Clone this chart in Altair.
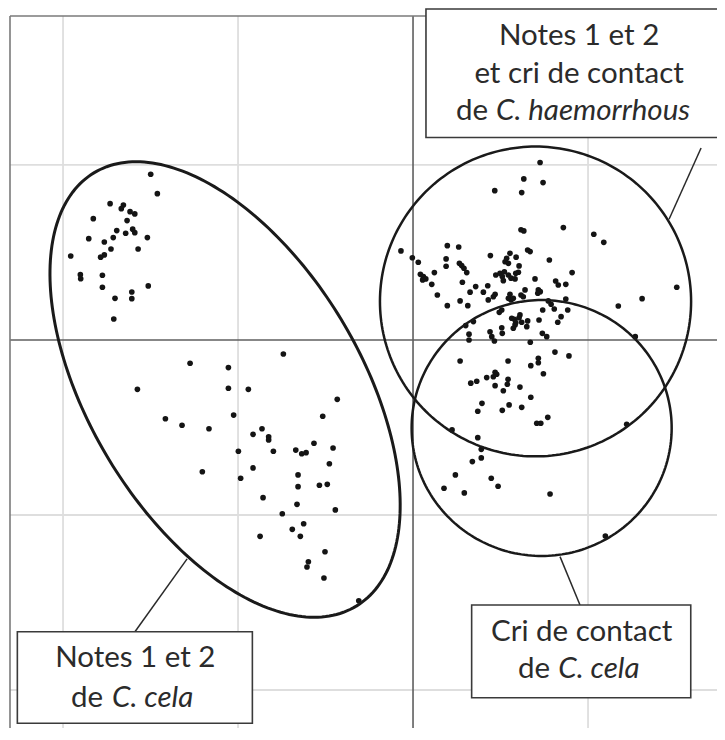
import altair as alt
import pandas as pd
import numpy as np

# ---- scores (grid spacing = 1 unit) ----
left_upper = [(-1.499,0.947),(-1.461,0.836),(-1.731,0.779),(-1.655,0.771),(-1.667,0.750),(-1.617,0.733),
              (-1.590,0.720),(-1.827,0.693),(-1.634,0.682),(-1.693,0.625),(-1.602,0.633),(-1.590,0.613),
              (-1.642,0.610),(-1.853,0.579),(-1.713,0.585),(-1.518,0.585),(-1.764,0.560),(-1.726,0.520),
              (-1.571,0.520),(-1.956,0.480),(-1.764,0.486),(-1.785,0.473),(-1.901,0.373),(-1.899,0.350),
              (-1.775,0.370),(-1.775,0.301),(-1.513,0.309),(-1.703,0.238),(-1.607,0.274),(-1.607,0.236),
              (-1.710,0.120)]
left_lower = [(-0.741,-0.080),(-1.274,-0.133),(-1.055,-0.158),(-1.575,-0.282),(-1.055,-0.276),(-0.941,-0.282),
              (-0.433,-0.339),(-1.415,-0.450),(-1.320,-0.487),(-1.166,-0.507),(-1.025,-0.429),(-0.516,-0.436),
              (-0.914,-0.539),(-0.863,-0.507),(-0.825,-0.553),(-0.825,-0.571),(-0.566,-0.590),(-0.998,-0.636),
              (-0.798,-0.636),(-0.670,-0.629),(-0.636,-0.650),(-0.611,-0.644),(-0.457,-0.617),(-0.478,-0.707),
              (-1.204,-0.753),(-0.914,-0.731),(-0.985,-0.790),(-0.657,-0.771),(-0.657,-0.838),(-0.535,-0.830),
              (-0.490,-0.825),(-0.857,-0.901),(-0.663,-0.939),(-0.444,-0.971),(-0.747,-0.993),(-0.625,-1.050),
              (-0.690,-1.082),(-0.644,-1.122),(-0.874,-1.122),(-0.503,-1.210),(-0.598,-1.267),(-0.606,-1.297),
              (-0.509,-1.360),(-0.310,-1.490)]
right_upper = [(0.726,1.014),(0.633,0.920),(0.743,0.899),(0.467,0.853),(0.621,0.842),(0.617,0.630),(0.633,0.623),
               (0.859,0.642),(1.033,0.604),(1.090,0.558),(-0.069,0.509),(0.196,0.539),(0.261,0.531),(-0.004,0.470),
               (0.030,0.444),(0.189,0.463),(0.189,0.421),(0.265,0.438),(0.278,0.425),(0.291,0.410),(0.307,0.385),
               (0.122,0.385),(0.442,0.482),(0.554,0.495),(0.535,0.467),(0.526,0.447),(0.545,0.438),(0.589,0.473),
               (0.655,0.514),(0.669,0.505),(0.779,0.457),(0.606,0.423),(0.602,0.387),(0.042,0.375),(0.059,0.362),
               (0.073,0.349),(0.055,0.343),(0.107,0.318),(0.282,0.330),(0.358,0.305),(0.427,0.310),(0.473,0.371),
               (0.497,0.381),(0.522,0.390),(0.510,0.362),(0.545,0.371),(0.560,0.353),(0.516,0.339),(0.587,0.381),
               (0.583,0.349),(0.697,0.349),(0.815,0.337),(0.830,0.314),(0.873,0.318),(0.909,0.385),(0.139,0.257),
               (0.326,0.273),(0.402,0.273),(0.469,0.261),(0.459,0.247),(0.430,0.229),(0.554,0.261),(0.545,0.238),
               (0.560,0.229),(0.573,0.238),(0.617,0.257),(0.630,0.247),(0.640,0.286),(0.716,0.286),(0.727,0.276),
               (0.713,0.267),(0.196,0.196),(0.269,0.223),(0.313,0.196),(0.773,0.223),(0.789,0.204),(0.873,0.234),
               (0.741,0.171),(0.807,0.177),(0.846,0.133),(0.827,0.101),(0.884,0.171),(0.493,0.158),(0.507,0.171),
               (0.564,0.124),(0.579,0.118),(0.587,0.099),(0.606,0.127),(0.611,0.143),(0.583,0.086),(0.573,0.067),
               (0.621,0.101),(0.655,0.109),(0.650,0.076),(0.720,0.114),(0.345,0.105),(0.301,0.082),(0.320,0.033),
               (0.320,0.000),(0.440,0.047),(0.450,0.019),(0.465,-0.006),(0.507,0.070),(0.510,0.038),(0.739,0.038),
               (0.764,0.019),(0.670,-0.013),(1.173,0.194),(1.309,0.236),(1.507,0.301),(1.270,0.019)]
right_lower = [(0.811,-0.069),(0.891,-0.091),(0.269,-0.120),(0.543,-0.120),(0.673,-0.147),(0.716,-0.105),
               (0.716,-0.130),(0.745,-0.193),(0.469,-0.185),(0.478,-0.196),(0.459,-0.210),(0.421,-0.215),
               (0.543,-0.225),(0.330,-0.247),(0.364,-0.236),(0.469,-0.261),(0.539,-0.253),(0.611,-0.269),
               (0.516,-0.290),(0.673,-0.327),(0.394,-0.362),(0.370,-0.407),(0.549,-0.371),(0.510,-0.402),
               (0.621,-0.385),(0.770,-0.442),(0.707,-0.476),(0.730,-0.476),(0.223,-0.514),(1.221,-0.482),
               (0.370,-0.558),(0.390,-0.625),(0.390,-0.674),(0.339,-0.695),(0.242,-0.771),(0.447,-0.790),
               (0.486,-0.836),(0.177,-0.847),(0.293,-0.874),(0.783,-0.880),(1.099,-1.120)]

# ---- ellipses (group outlines): centre, semi-axes, rotation (deg) ----
ell_names = ["notes_cela", "haemorrhous", "cri_cela"]
ell_cx = [-1.074, 0.700, 0.735]
ell_cy = [-0.283, 0.220, -0.503]
ell_a = [1.447, 0.889, 0.743]
ell_b = [0.775, 0.885, 0.731]
ell_rot = [-58.8, 0.0, 0.0]
ell_w = [3.0, 2.5, 2.5]

# ---- label boxes and leader lines ----
box_x = [0.074, -2.261, 0.335]
box_x2 = [1.90, -0.918, 1.587]
box_y = [1.891, -1.667, -1.514]
box_y2 = [1.157, -2.190, -2.044]
lead_x = [1.646, -1.589, 0.954]
lead_y = [1.097, -1.667, -1.514]
lead_x2 = [1.463, -1.291, 0.840]
lead_y2 = [0.690, -1.251, -1.238]

center_txt = ["Notes 1 et 2", "et cri de contact", "Notes 1 et 2", "Cri de contact"]
center_x = [0.949, 0.949, -1.587, 0.964]
center_y = [1.686, 1.469, -1.870, -1.718]
de_x = [0.429, -1.771, 0.783]
de_y = [1.257, -2.095, -1.933]
sp_txt = ["C. haemorrhous", "C. cela", "C. cela"]
sp_x = [0.474, -1.720, 0.830]

XMIN, XMAX = -2.303, 1.737
YMIN, YMAX = -2.217, 1.851
grid_x = [-2, -1, 1]
grid_y = [1, -1, -2]

pts = pd.DataFrame(left_upper + left_lower + right_upper + right_lower, columns=["x", "y"])

rows = []
for i, n in enumerate(ell_names):
    t = np.linspace(0, 2 * np.pi, 241)
    r = np.deg2rad(ell_rot[i])
    ex = ell_a[i] * np.cos(t)
    ey = ell_b[i] * np.sin(t)
    for k in range(len(t)):
        rows.append({"name": n, "o": k, "w": ell_w[i],
                     "x": ell_cx[i] + ex[k] * np.cos(r) - ey[k] * np.sin(r),
                     "y": ell_cy[i] + ex[k] * np.sin(r) + ey[k] * np.cos(r)})
ell = pd.DataFrame(rows)

boxes = pd.DataFrame({"x": box_x, "x2": box_x2, "y": box_y, "y2": box_y2})
leads = pd.DataFrame({"x": lead_x, "x2": lead_x2, "y": lead_y, "y2": lead_y2})
ctext = pd.DataFrame({"t": center_txt, "x": center_x, "y": center_y})
detext = pd.DataFrame({"t": ["de"] * 3, "x": de_x, "y": de_y})
sptext = pd.DataFrame({"t": sp_txt, "x": sp_x, "y": de_y})
frame = pd.DataFrame({"x": [XMIN], "y": [YMAX]})
zero = pd.DataFrame({"v": [0.0]})
gx = pd.DataFrame({"v": grid_x})
gy = pd.DataFrame({"v": grid_y})

xs = alt.Scale(domain=[XMIN, XMAX], nice=False, zero=False)
ys = alt.Scale(domain=[YMIN, YMAX], nice=False, zero=False)

gridx = alt.Chart(gx).mark_rule(color="#dedede", strokeWidth=1.8).encode(x=alt.X("v:Q", scale=xs, axis=None))
gridy = alt.Chart(gy).mark_rule(color="#dedede", strokeWidth=1.8).encode(y=alt.Y("v:Q", scale=ys, axis=None))
zx = alt.Chart(zero).mark_rule(color="#5f5f5f", strokeWidth=1.6).encode(x=alt.X("v:Q", scale=xs, axis=None))
zy = alt.Chart(zero).mark_rule(color="#5f5f5f", strokeWidth=1.6).encode(y=alt.Y("v:Q", scale=ys, axis=None))
ftop = alt.Chart(frame).mark_rule(color="#7a7a7a", strokeWidth=1.6).encode(y=alt.Y("y:Q", scale=ys, axis=None))
fleft = alt.Chart(frame).mark_rule(color="#7a7a7a", strokeWidth=1.6).encode(x=alt.X("x:Q", scale=xs, axis=None))

base = alt.Chart(pts).mark_circle(size=32, color="#141414", opacity=1).encode(
    x=alt.X("x:Q", scale=xs, axis=None),
    y=alt.Y("y:Q", scale=ys, axis=None),
)

ells = alt.Chart(ell).mark_line(color="#1a1a1a").encode(
    x=alt.X("x:Q", scale=xs, axis=None),
    y=alt.Y("y:Q", scale=ys, axis=None),
    detail="name:N",
    order="o:Q",
    strokeWidth=alt.StrokeWidth("w:Q", scale=None),
)

lead_chart = alt.Chart(leads).mark_rule(color="#2a2a2a", strokeWidth=1.5).encode(
    x=alt.X("x:Q", scale=xs, axis=None), x2="x2:Q",
    y=alt.Y("y:Q", scale=ys, axis=None), y2="y2:Q",
)

box_chart = alt.Chart(boxes).mark_rect(fill="white", stroke="#3a3a3a", strokeWidth=1.6).encode(
    x=alt.X("x:Q", scale=xs, axis=None), x2="x2:Q",
    y=alt.Y("y:Q", scale=ys, axis=None), y2="y2:Q",
)

FONT = "Lato"
FS = 29.5
TC = "#2b2b2b"
t1 = alt.Chart(ctext).mark_text(font=FONT, fontSize=FS, color=TC, align="center", baseline="alphabetic").encode(
    x=alt.X("x:Q", scale=xs, axis=None), y=alt.Y("y:Q", scale=ys, axis=None), text="t:N")
t2 = alt.Chart(detext).mark_text(font=FONT, fontSize=FS, color=TC, align="right", baseline="alphabetic").encode(
    x=alt.X("x:Q", scale=xs, axis=None), y=alt.Y("y:Q", scale=ys, axis=None), text="t:N")
t3 = alt.Chart(sptext).mark_text(font=FONT, fontSize=FS, color=TC, align="left", baseline="alphabetic",
                                 fontStyle="italic").encode(
    x=alt.X("x:Q", scale=xs, axis=None), y=alt.Y("y:Q", scale=ys, axis=None), text="t:N")

chart = alt.layer(gridx, gridy, zx, zy, ftop, fleft, base, ells, lead_chart, box_chart, t1, t2, t3).properties(
    width=707, height=712,
    autosize=alt.AutoSizeParams(type="none"),
    padding={"left": 2, "top": 8, "right": 0, "bottom": 0},
    background="white",
).configure_view(stroke=None)

chart.save("out.html", embed_options={"renderer": "svg", "actions": False})
